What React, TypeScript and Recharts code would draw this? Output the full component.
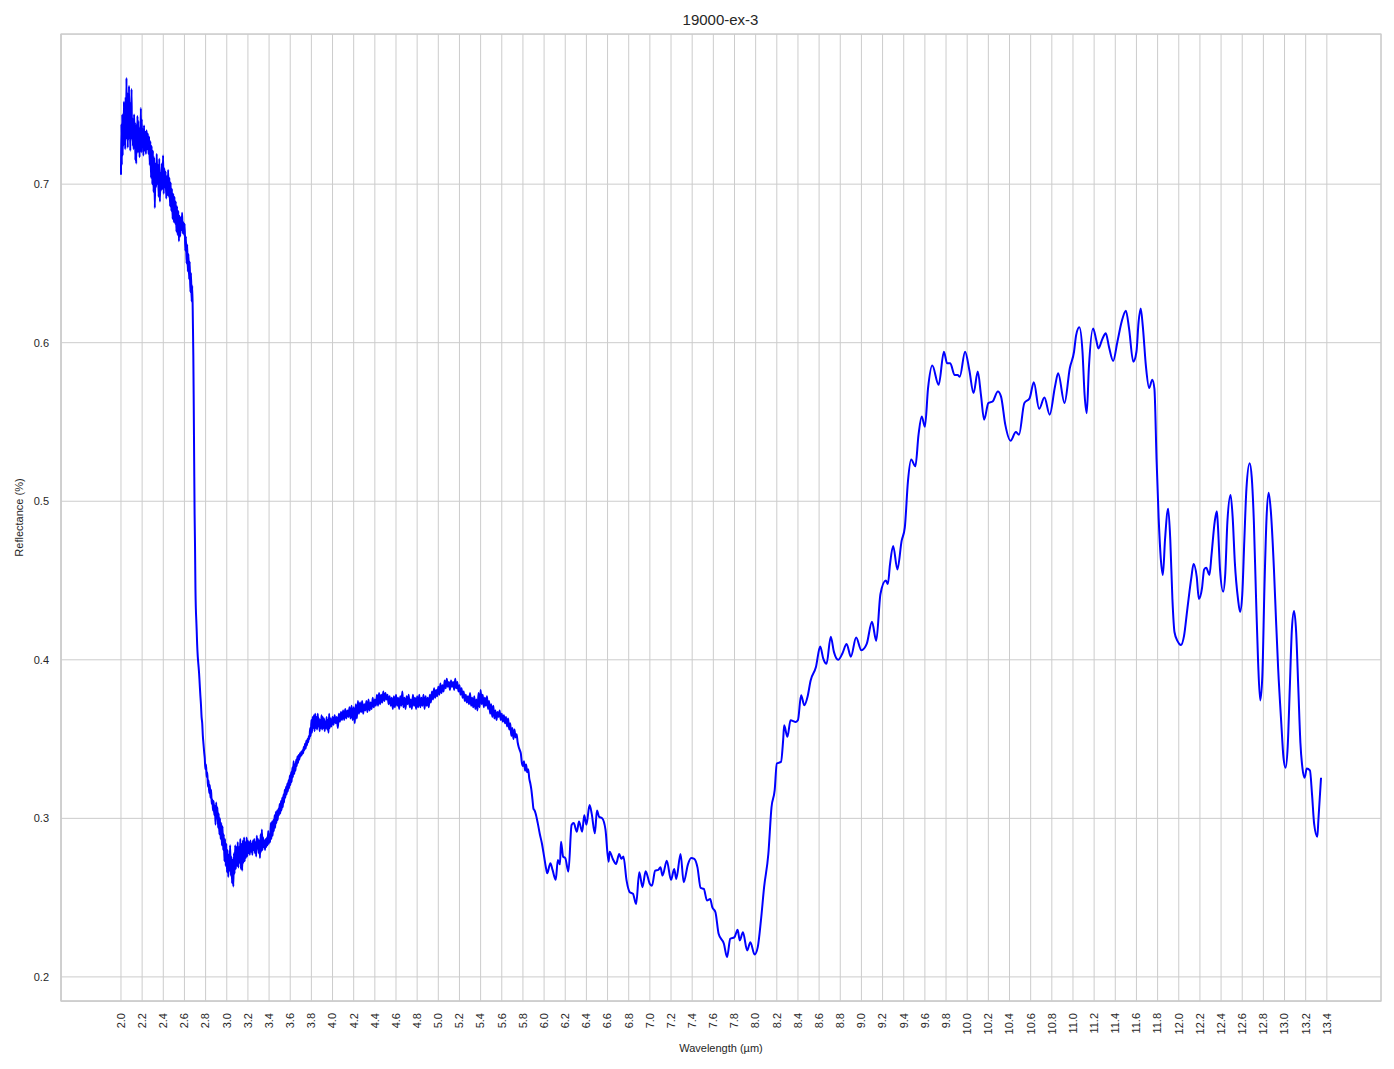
import React from 'react';
import { LineChart, Line, XAxis, YAxis, CartesianGrid, ReferenceArea, Label } from 'recharts';

const CHART_TITLE = '19000-ex-3';
const X_LABEL = 'Wavelength (µm)';
const Y_LABEL = 'Reflectance (%)';

const xTicks = [2.0, 2.2, 2.4, 2.6, 2.8, 3.0, 3.2, 3.4, 3.6, 3.8, 4.0, 4.2, 4.4, 4.6, 4.8, 5.0, 5.2, 5.4, 5.6, 5.8, 6.0, 6.2, 6.4, 6.6, 6.8, 7.0, 7.2, 7.4, 7.6, 7.8, 8.0, 8.2, 8.4, 8.6, 8.8, 9.0, 9.2, 9.4, 9.6, 9.8, 10.0, 10.2, 10.4, 10.6, 10.8, 11.0, 11.2, 11.4, 11.6, 11.8, 12.0, 12.2, 12.4, 12.6, 12.8, 13.0, 13.2, 13.4];
const yTicks = [0.2, 0.3, 0.4, 0.5, 0.6, 0.7];
const X_DOMAIN: [number, number] = [1.433, 13.912];
const Y_DOMAIN: [number, number] = [0.1848, 0.7947];

// [wavelength µm, reflectance]
const noisyPlateau: [number, number][] = [
  [2.000,0.706],[2.004,0.738],[2.008,0.712],[2.012,0.744],[2.016,0.718],[2.020,0.740],[2.024,0.724],[2.028,0.752],[2.032,0.727],[2.036,0.745],
  [2.040,0.722],[2.044,0.755],[2.048,0.728],[2.052,0.767],[2.056,0.730],[2.060,0.758],[2.064,0.723],[2.068,0.748],[2.072,0.728],[2.076,0.762],
  [2.080,0.732],[2.084,0.745],[2.088,0.721],[2.092,0.752],[2.096,0.735],[2.100,0.760],[2.104,0.728],[2.108,0.742],[2.112,0.724],[2.116,0.738],
  [2.120,0.722],[2.124,0.744],[2.128,0.730],[2.132,0.739],[2.136,0.715],[2.140,0.735],[2.144,0.713],[2.148,0.738],[2.152,0.725],[2.156,0.743],
  [2.160,0.720],[2.164,0.740],[2.168,0.722],[2.172,0.731],[2.176,0.717],[2.180,0.736],[2.184,0.724],[2.188,0.748],[2.192,0.720],[2.196,0.741],
  [2.200,0.725],[2.206,0.735],[2.212,0.718],[2.218,0.737],[2.224,0.721],[2.230,0.733],[2.236,0.719],[2.242,0.734],[2.248,0.722],[2.254,0.732],
  [2.260,0.719],[2.266,0.730],[2.272,0.712],[2.278,0.727],[2.284,0.704],[2.290,0.724],[2.296,0.700],[2.302,0.721],[2.308,0.695],[2.314,0.717],
  [2.320,0.685],[2.326,0.713],[2.332,0.698],[2.338,0.719],[2.344,0.700],[2.350,0.712],[2.356,0.692],[2.362,0.716],[2.368,0.689],[2.374,0.707],
  [2.380,0.696],[2.386,0.713],[2.392,0.697],[2.398,0.718],[2.404,0.694],[2.410,0.710],[2.416,0.698],[2.422,0.708],[2.428,0.691],[2.434,0.705],
  [2.440,0.693],[2.446,0.709],[2.452,0.692],[2.458,0.704],[2.464,0.686],[2.470,0.701],[2.476,0.683],[2.482,0.697],[2.488,0.678],[2.494,0.694],
  [2.500,0.676],[2.506,0.692],[2.512,0.675],[2.518,0.689],[2.524,0.670],[2.530,0.686],[2.536,0.668],[2.542,0.683],[2.548,0.664],[2.554,0.680],
  [2.560,0.667],[2.566,0.679],[2.572,0.671],[2.578,0.682],[2.584,0.669],[2.590,0.676],[2.596,0.668],[2.602,0.675],[2.608,0.658],[2.614,0.667],
  [2.620,0.650],[2.626,0.662],[2.632,0.645],[2.638,0.656],[2.644,0.640],[2.650,0.651],[2.656,0.632],[2.662,0.644],[2.668,0.626],[2.674,0.636],
];

const steepDrop: [number, number][] = [
  [2.680,0.612],[2.684,0.592],[2.688,0.560],[2.692,0.525],[2.696,0.492],[2.700,0.472],[2.704,0.445],[2.708,0.432],[2.712,0.425],[2.716,0.418],
  [2.720,0.410],[2.726,0.402],[2.732,0.397],[2.738,0.392],[2.744,0.385],[2.750,0.378],[2.756,0.372],[2.762,0.364],[2.768,0.360],[2.774,0.352],
  [2.780,0.347],[2.786,0.342],[2.792,0.338],[2.798,0.331],
];

const troughNoise: [number, number][] = [
  [2.804,0.334],[2.810,0.326],[2.816,0.329],[2.822,0.320],[2.828,0.324],[2.834,0.316],[2.840,0.321],[2.846,0.313],[2.852,0.318],[2.858,0.309],
  [2.864,0.312],[2.870,0.305],[2.876,0.311],[2.882,0.302],[2.888,0.308],[2.894,0.296],[2.900,0.310],[2.906,0.300],[2.912,0.307],[2.918,0.294],
  [2.924,0.303],[2.930,0.290],[2.936,0.300],[2.942,0.287],[2.948,0.297],[2.954,0.283],[2.960,0.295],[2.966,0.280],[2.972,0.290],[2.978,0.273],
  [2.984,0.287],[2.990,0.270],[2.996,0.284],[3.002,0.266],[3.008,0.280],[3.014,0.263],[3.020,0.277],[3.026,0.267],[3.032,0.283],[3.038,0.264],
  [3.044,0.276],[3.050,0.259],[3.056,0.274],[3.062,0.257],[3.068,0.278],[3.074,0.265],[3.080,0.283],[3.086,0.268],[3.092,0.282],[3.098,0.270],
  [3.104,0.285],[3.110,0.269],[3.116,0.282],[3.122,0.272],[3.128,0.287],[3.134,0.268],[3.140,0.284],[3.146,0.267],[3.152,0.286],[3.158,0.272],
  [3.164,0.288],[3.170,0.273],[3.176,0.285],[3.182,0.275],[3.188,0.288],[3.194,0.276],[3.200,0.286],[3.206,0.278],[3.212,0.285],[3.218,0.277],
  [3.224,0.286],[3.230,0.279],[3.236,0.284],[3.242,0.277],[3.248,0.286],[3.254,0.280],[3.260,0.287],[3.266,0.278],[3.272,0.285],[3.278,0.276],
  [3.284,0.289],[3.290,0.281],[3.296,0.287],[3.302,0.278],[3.308,0.286],[3.314,0.275],[3.320,0.290],[3.326,0.279],[3.332,0.293],[3.338,0.280],
  [3.344,0.288],[3.350,0.282],[3.356,0.286],[3.362,0.280],[3.368,0.287],[3.374,0.282],[3.380,0.288],[3.386,0.283],[3.392,0.292],[3.398,0.284],
  [3.404,0.290],[3.410,0.285],[3.416,0.297],[3.422,0.287],[3.428,0.298],[3.434,0.289],[3.440,0.299],[3.446,0.292],[3.452,0.302],[3.458,0.294],
  [3.464,0.304],[3.470,0.297],[3.476,0.305],[3.482,0.299],[3.488,0.306],[3.494,0.302],[3.500,0.309],[3.506,0.303],[3.512,0.311],[3.518,0.305],
  [3.524,0.313],[3.530,0.307],[3.536,0.315],[3.542,0.310],[3.548,0.318],[3.554,0.313],[3.560,0.320],[3.566,0.315],[3.572,0.322],[3.578,0.317],
  [3.584,0.324],[3.590,0.319],[3.596,0.327],[3.602,0.321],[3.608,0.329],[3.614,0.323],[3.620,0.332],[3.626,0.326],[3.632,0.336],[3.638,0.328],
  [3.644,0.334],[3.650,0.330],[3.656,0.337],[3.662,0.333],[3.668,0.339],[3.674,0.335],[3.680,0.340],[3.686,0.337],[3.692,0.341],[3.698,0.339],
  [3.704,0.342],[3.710,0.340],[3.716,0.343],[3.722,0.341],[3.728,0.345],[3.734,0.343],[3.740,0.347],[3.746,0.344],[3.752,0.349],[3.758,0.346],
  [3.764,0.350],[3.770,0.348],[3.776,0.352],[3.782,0.350],[3.788,0.357],[3.794,0.352],
];

const broadHump: [number, number][] = [
  [3.800,0.362],[3.806,0.354],[3.812,0.364],[3.818,0.357],[3.824,0.365],[3.830,0.355],[3.836,0.366],[3.842,0.357],[3.848,0.364],[3.854,0.356],
  [3.860,0.366],[3.866,0.358],[3.872,0.363],[3.878,0.355],[3.884,0.362],[3.890,0.357],[3.896,0.365],[3.902,0.356],[3.908,0.364],[3.914,0.357],
  [3.920,0.363],[3.926,0.355],[3.932,0.361],[3.938,0.357],[3.944,0.364],[3.950,0.356],[3.956,0.362],[3.962,0.354],[3.968,0.366],[3.974,0.357],
  [3.980,0.363],[3.990,0.358],[4.000,0.364],[4.010,0.359],[4.020,0.365],[4.030,0.360],[4.040,0.364],[4.050,0.357],[4.060,0.366],[4.070,0.361],
  [4.080,0.367],[4.090,0.362],[4.100,0.368],[4.110,0.362],[4.120,0.369],[4.130,0.363],[4.140,0.368],[4.150,0.364],[4.160,0.370],[4.170,0.363],
  [4.180,0.371],[4.190,0.362],[4.200,0.370],[4.210,0.360],[4.220,0.372],[4.230,0.363],[4.240,0.374],[4.250,0.366],[4.260,0.373],[4.270,0.367],
  [4.280,0.374],[4.290,0.366],[4.300,0.372],[4.310,0.368],[4.320,0.374],[4.330,0.367],[4.340,0.375],[4.350,0.368],[4.360,0.373],[4.370,0.369],
  [4.380,0.376],[4.390,0.370],[4.400,0.375],[4.410,0.371],[4.420,0.378],[4.430,0.371],[4.440,0.379],[4.450,0.372],[4.460,0.378],[4.470,0.373],
  [4.480,0.380],[4.490,0.374],[4.500,0.379],[4.510,0.375],[4.520,0.378],[4.530,0.372],[4.540,0.377],[4.550,0.371],[4.560,0.376],[4.570,0.369],
  [4.580,0.377],[4.590,0.370],[4.600,0.378],[4.610,0.371],[4.620,0.376],[4.630,0.369],[4.640,0.377],[4.650,0.371],[4.660,0.380],[4.670,0.370],
  [4.680,0.376],[4.690,0.369],[4.700,0.377],[4.710,0.372],[4.720,0.378],[4.730,0.370],[4.740,0.375],[4.750,0.369],[4.760,0.378],[4.770,0.371],
  [4.780,0.376],[4.790,0.369],[4.800,0.377],[4.810,0.370],[4.820,0.378],[4.830,0.370],[4.840,0.376],[4.850,0.371],[4.860,0.378],[4.870,0.369],
  [4.880,0.377],[4.890,0.371],[4.900,0.376],[4.910,0.370],[4.920,0.378],[4.930,0.373],[4.940,0.380],[4.950,0.375],[4.960,0.382],[4.970,0.376],
  [4.980,0.381],[4.990,0.377],[5.000,0.383],[5.010,0.378],[5.020,0.385],[5.030,0.379],[5.040,0.384],[5.050,0.380],[5.060,0.387],[5.070,0.382],
  [5.080,0.388],[5.090,0.383],[5.100,0.386],[5.110,0.381],[5.120,0.387],[5.130,0.383],[5.140,0.386],[5.150,0.381],[5.160,0.388],[5.170,0.382],
  [5.180,0.386],[5.190,0.380],[5.200,0.384],[5.210,0.378],[5.220,0.382],[5.230,0.376],[5.240,0.380],[5.250,0.374],[5.260,0.378],[5.270,0.373],
  [5.280,0.377],[5.290,0.372],[5.300,0.379],[5.310,0.371],[5.320,0.376],[5.330,0.370],[5.340,0.377],[5.350,0.369],[5.360,0.375],[5.370,0.368],
  [5.380,0.379],[5.390,0.370],[5.400,0.381],[5.410,0.372],[5.420,0.378],[5.430,0.370],[5.440,0.376],[5.450,0.371],[5.460,0.377],[5.470,0.369],
  [5.480,0.374],[5.490,0.366],[5.500,0.372],[5.510,0.364],[5.520,0.371],[5.530,0.363],[5.540,0.368],[5.550,0.362],[5.560,0.367],[5.570,0.364],
  [5.580,0.368],[5.590,0.362],[5.600,0.366],[5.610,0.361],[5.620,0.365],[5.630,0.360],[5.640,0.364],[5.650,0.358],[5.660,0.363],[5.670,0.356],
  [5.680,0.360],[5.690,0.352],[5.700,0.357],[5.710,0.350],[5.720,0.356],[5.730,0.351],[5.740,0.353],[5.750,0.348],[5.760,0.345],[5.770,0.343],
  [5.780,0.341],[5.790,0.335],[5.800,0.333],[5.810,0.336],[5.820,0.330],[5.830,0.334],[5.840,0.329],[5.850,0.331],[5.860,0.325],[5.870,0.322],
  [5.880,0.318],[5.890,0.312],
];

const midBand: [number, number][] = [
  [5.900,0.306],[5.910,0.305],[5.920,0.303],[5.940,0.297],[5.960,0.290],[5.980,0.284],[6.000,0.276],[6.020,0.268],[6.030,0.2654],[6.050,0.270],
  [6.060,0.2717],[6.080,0.2675],[6.110,0.2612],[6.130,0.2738],[6.150,0.271],[6.160,0.2853],[6.180,0.2759],[6.200,0.275],[6.230,0.2664],[6.260,0.2958],
  [6.280,0.297],[6.310,0.2916],[6.330,0.298],[6.360,0.2916],[6.380,0.302],[6.400,0.296],[6.430,0.3084],[6.450,0.303],[6.480,0.2906],[6.500,0.305],
  [6.520,0.301],[6.550,0.300],[6.580,0.293],[6.610,0.2727],[6.620,0.279],[6.650,0.2744],[6.680,0.2712],[6.710,0.2775],[6.730,0.2745],[6.750,0.2759],
  [6.780,0.2607],[6.810,0.2534],[6.840,0.2525],[6.870,0.246],[6.900,0.266],[6.930,0.2566],[6.960,0.2666],[7.000,0.2586],[7.020,0.2575],[7.050,0.267],
  [7.080,0.2675],[7.100,0.2691],[7.120,0.2639],[7.160,0.2733],[7.200,0.2612],[7.230,0.268],[7.250,0.2618],[7.290,0.2775],[7.320,0.2597],[7.360,0.271],
  [7.390,0.275],[7.420,0.2745],[7.450,0.2691],[7.480,0.2561],[7.510,0.2555],[7.540,0.2482],[7.570,0.2492],[7.590,0.244],[7.620,0.2408],[7.650,0.2272],
  [7.700,0.2209],[7.730,0.2125],[7.760,0.224],[7.800,0.2251],[7.830,0.2297],[7.850,0.223],[7.880,0.2282],[7.920,0.2167],[7.950,0.2219],[7.990,0.2141],
  [8.020,0.2188],
];

const riseToPlateau: [number, number][] = [
  [8.050,0.2356],[8.080,0.2566],[8.120,0.2775],[8.150,0.307],[8.180,0.3178],[8.200,0.3346],[8.240,0.3356],[8.260,0.3493],[8.270,0.3587],[8.300,0.3514],
  [8.330,0.3618],[8.380,0.3608],[8.400,0.362],[8.430,0.3776],[8.460,0.3713],[8.490,0.3765],[8.520,0.387],[8.570,0.3954],[8.610,0.4084],[8.640,0.4006],
  [8.670,0.3975],[8.710,0.4145],[8.740,0.405],[8.780,0.400],[8.820,0.404],[8.860,0.410],[8.900,0.402],[8.950,0.414],[9.000,0.406],[9.050,0.410],
  [9.100,0.424],[9.140,0.412],[9.180,0.4415],[9.230,0.450],[9.250,0.4478],[9.270,0.460],[9.300,0.4718],[9.340,0.457],[9.380,0.475],[9.410,0.4834],
  [9.440,0.5127],[9.470,0.5263],[9.510,0.522],[9.540,0.542],[9.570,0.5535],[9.600,0.547],[9.630,0.5713],[9.670,0.5856],[9.730,0.5734],[9.780,0.5943],
  [9.810,0.587],[9.840,0.587],[9.880,0.5797],[9.910,0.5797],[9.930,0.5786],[9.980,0.5943],
];

const plateau: [number, number][] = [
  [10.020,0.5828],[10.060,0.5682],[10.100,0.5818],[10.130,0.5671],[10.160,0.5514],[10.200,0.5619],[10.240,0.5629],[10.290,0.5692],[10.320,0.566],[10.360,0.5483],
  [10.410,0.5382],[10.460,0.5437],[10.490,0.542],[10.540,0.5619],[10.590,0.565],[10.630,0.575],[10.680,0.5583],[10.730,0.5654],[10.780,0.5546],[10.830,0.5724],
  [10.860,0.5807],[10.920,0.5619],[10.970,0.5839],[11.010,0.5943],[11.030,0.6048],[11.060,0.6097],[11.090,0.5943],[11.110,0.567],[11.130,0.5555],[11.150,0.5838],
  [11.190,0.609],[11.220,0.6017],[11.240,0.5964],[11.280,0.6027],[11.310,0.6059],[11.340,0.5975],[11.380,0.5885],[11.420,0.6006],[11.460,0.6132],[11.500,0.6202],
  [11.530,0.609],[11.570,0.588],[11.600,0.5943],[11.620,0.6128],[11.640,0.6216],[11.660,0.6105],[11.690,0.5849],[11.720,0.5714],[11.750,0.5767],[11.770,0.5709],
];

const oscillatingTail: [number, number][] = [
  [11.790,0.5267],[11.810,0.4895],[11.830,0.464],[11.850,0.4535],[11.870,0.4756],[11.900,0.4953],[11.920,0.4756],[11.940,0.4384],[11.960,0.4174],[11.990,0.4116],
  [12.020,0.4093],[12.050,0.4151],[12.080,0.4314],[12.120,0.4523],[12.140,0.4605],[12.170,0.4523],[12.190,0.4384],[12.220,0.4453],[12.240,0.457],[12.260,0.4581],
  [12.290,0.4535],[12.310,0.4663],[12.340,0.4872],[12.360,0.4937],[12.370,0.4849],[12.390,0.457],[12.420,0.443],[12.440,0.4547],[12.460,0.4872],[12.490,0.504],
  [12.510,0.4895],[12.530,0.4616],[12.560,0.4384],[12.580,0.4302],[12.600,0.4407],[12.620,0.4756],[12.640,0.5081],[12.670,0.524],[12.690,0.5151],[12.710,0.4872],
  [12.730,0.4407],[12.750,0.3988],[12.770,0.3744],[12.790,0.3895],[12.810,0.4453],[12.830,0.4895],[12.850,0.5053],[12.870,0.4942],[12.900,0.457],[12.920,0.4244],
  [12.940,0.3942],[12.970,0.3593],[12.990,0.3384],[13.010,0.3319],[13.030,0.3453],[13.050,0.3826],[13.070,0.4198],[13.090,0.4307],[13.110,0.4174],[13.130,0.3826],
  [13.150,0.3477],[13.170,0.3314],[13.190,0.3256],[13.210,0.3314],[13.240,0.3302],[13.260,0.3151],[13.280,0.2965],[13.310,0.2884],[13.320,0.2988],[13.345,0.3256],
];

const data = [noisyPlateau, steepDrop, troughNoise, broadHump, midBand, riseToPlateau, plateau, oscillatingTail]
  .flat()
  .map(([x, y]) => ({ x, y }));

const FONT = '"Liberation Sans", Arial, Helvetica, sans-serif';
const TEXT = '#262626';
const GRID = '#cccccc';

const XTick = (props: any) => {
  const { x, y, payload } = props;
  return (
    <text x={x} y={y} transform={`rotate(-90, ${x}, ${y})`} textAnchor="end" dy="0.35em"
      fontSize={11} fontFamily={FONT} fill={TEXT}>
      {Number(payload.value).toFixed(1)}
    </text>
  );
};

const YTick = (props: any) => {
  const { x, y, payload } = props;
  return (
    <text x={x} y={y} textAnchor="end" dy="0.35em" fontSize={11} fontFamily={FONT} fill={TEXT}>
      {Number(payload.value).toFixed(1)}
    </text>
  );
};

export default function App() {
  return (
    <div style={{ position: 'absolute', left: 0, top: 0, width: 1394, height: 1069, background: '#ffffff', fontFamily: FONT }}>
      <div style={{ position: 'absolute', left: 0, top: 11, width: 1441, textAlign: 'center', fontSize: 15, lineHeight: '18px', color: TEXT }}>
        {CHART_TITLE}
      </div>
      <LineChart width={1394} height={1069} data={data} margin={{ top: 34, right: 13, left: 0, bottom: 8 }}>
        <CartesianGrid stroke={GRID} strokeWidth={1} vertical horizontal />
        <XAxis dataKey="x" type="number" domain={X_DOMAIN} ticks={xTicks} interval={0}
          tick={<XTick />} tickLine={false} tickSize={0} tickMargin={12} height={60}
          axisLine={{ stroke: GRID, strokeWidth: 1.25 }} allowDataOverflow>
          <Label content={() => (
            <text x={721} y={1048} textAnchor="middle" dy="0.35em" fontSize={11} fontFamily={FONT} fill={TEXT}>{X_LABEL}</text>
          )} />
        </XAxis>
        <YAxis type="number" domain={Y_DOMAIN} ticks={yTicks} interval={0} width={61}
          tick={<YTick />} tickLine={false} tickSize={0} tickMargin={12}
          axisLine={{ stroke: GRID, strokeWidth: 1.25 }} allowDataOverflow>
          <Label content={() => (
            <text x={19} y={517.5} transform="rotate(-90, 19, 517.5)" textAnchor="middle" dy="0.35em" fontSize={11} fontFamily={FONT} fill={TEXT}>{Y_LABEL}</text>
          )} />
        </YAxis>
        <ReferenceArea x1={X_DOMAIN[0]} x2={X_DOMAIN[1]} y1={Y_DOMAIN[0]} y2={Y_DOMAIN[1]}
          fill="none" stroke={GRID} strokeWidth={1.25} ifOverflow="visible" />
        <Line type="monotone" dataKey="y" stroke="#0000ff" strokeWidth={2} dot={false} activeDot={false}
          isAnimationActive={false} />
      </LineChart>
    </div>
  );
}
